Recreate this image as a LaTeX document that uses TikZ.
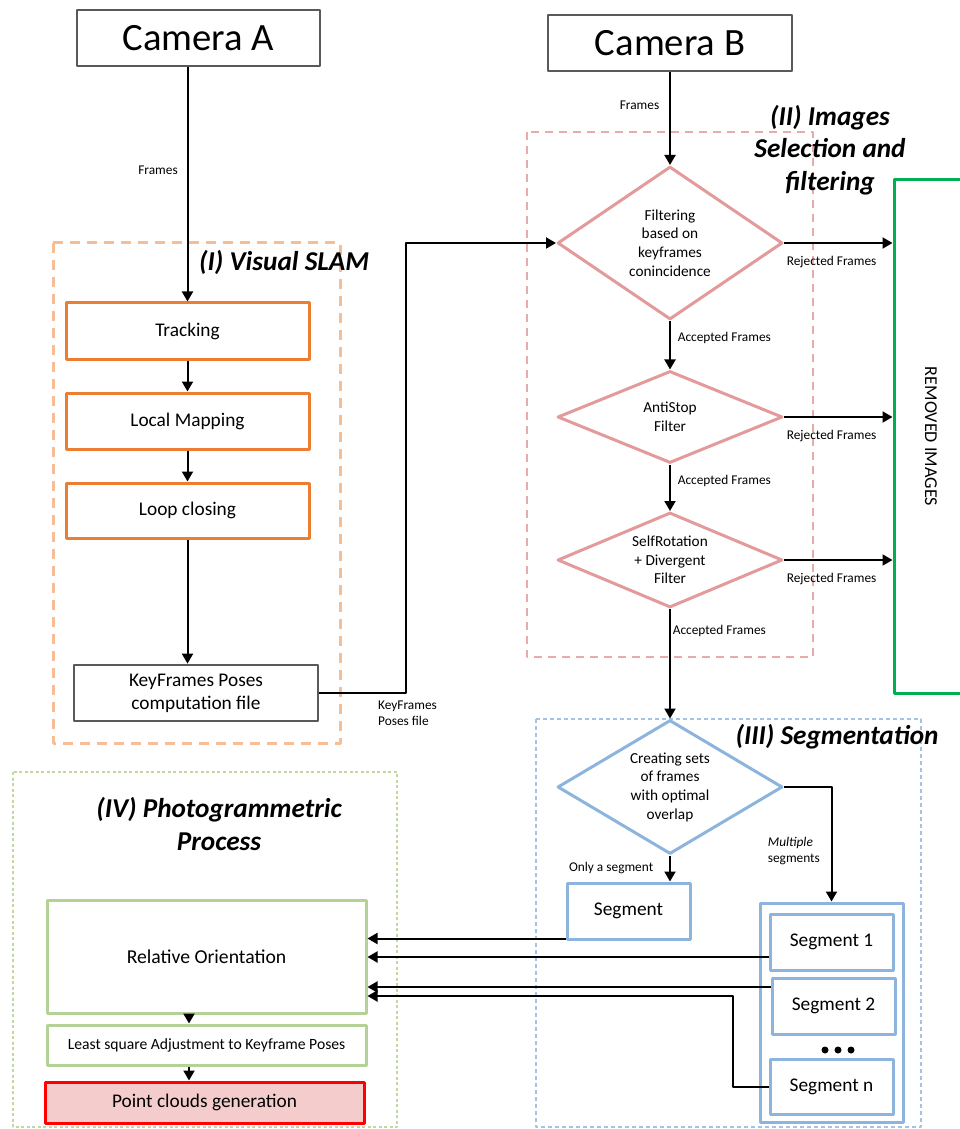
\documentclass[tikz,border=0pt]{standalone}
\usepackage{fontspec}
\setmainfont{Carlito}
\usepackage{graphicx}
\usetikzlibrary{arrows.meta,calc,shapes.geometric}
\definecolor{camgray}{HTML}{595959}
\definecolor{slamorange}{HTML}{ED7D31}
\definecolor{slamdash}{HTML}{F7BE95}
\definecolor{pinkline}{HTML}{E39A9A}
\definecolor{pinkdash}{HTML}{EBAAAA}
\definecolor{removegreen}{HTML}{00B050}
\definecolor{blueline}{HTML}{8CB4DC}
\definecolor{bluedash}{HTML}{A0C3E6}
\definecolor{greenline}{HTML}{B4D296}
\definecolor{greendash}{HTML}{C3D7A5}
\definecolor{pcfill}{HTML}{F4CCCC}
\tikzset{
  sz/.style 2 args={minimum width=#1*\px, minimum height=#2*\px, inner sep=0pt},
  cam/.style={draw=camgray, line width=0.55mm, font=\fontsize{22}{26}\selectfont},
  slam/.style={draw=slamorange, line width=0.6mm, font=\fontsize{11}{13}\selectfont},
  kfbox/.style={draw=camgray, line width=0.55mm, align=center, font=\fontsize{11}{13}\selectfont},
  filt/.style={diamond, draw=pinkline, line width=0.6mm, aspect=2, align=center, font=\fontsize{8.7}{10.6}\selectfont},
  segdia/.style={filt, draw=blueline},
  segbox/.style={draw=blueline, line width=0.6mm, font=\fontsize{11}{13}\selectfont},
  photo/.style={draw=greenline, line width=0.6mm},
  lbl/.style={font=\fontsize{7.6}{9}\selectfont, inner sep=1pt},
  ttl/.style={font=\bfseries\itshape\fontsize{15.5}{18.4}\selectfont, align=center},
  arr/.style={->, line width=0.4mm},
}
\begin{document}
\begin{tikzpicture}[x=0.2mm, y=-0.2mm, line join=round, >={Triangle[length=2mm,width=2.2mm]}]
	\def\px{0.2mm}
	\useasboundingbox (0,0) rectangle (959,1129);
	\draw[slamdash, line width=0.6mm, dash pattern=on 2mm off 1.4mm] (53,243) rectangle (340,743);
	\draw[pinkdash, line width=0.3mm, dash pattern=on 1.6mm off 1.2mm] (527,132) rectangle (813,657);
	\draw[bluedash, line width=0.3mm, dash pattern=on 0.8mm off 0.6mm] (536,719) rectangle (921,1127);
	\draw[greendash, line width=0.3mm, dash pattern=on 0.6mm off 0.5mm] (13,772) rectangle (397,1127);
	\node[ttl, anchor=west] (t1) at (193,262) {(I) Visual SLAM};
	\node[ttl] (t2) at (830,150) {(II) Images\\Selection and\\filtering};
	\node[ttl] (t3) at (837,737) {(III) Segmentation};
	\node[ttl] (t4) at (219,824) {(IV) Photogrammetric\\Process};
	% camera A and visual SLAM
	\node[cam, sz={243}{56}] (camA) at (198.5,38) {Camera A};
	\node[slam, sz={243}{56}] (trk) at (187.5,331) {Tracking};
	\node[slam, sz={243}{56}] (lmap) at (187.5,421) {Local Mapping};
	\node[slam, sz={243}{55}] (lclos) at (187.5,510.5) {Loop closing};
	\node[kfbox, sz={244}{56}] (kfp) at (196,693) {KeyFrames Poses\\computation file};
	\draw[arr] (camA.south -| trk.north) -- (trk.north) node[lbl, left, pos=0.44, xshift=-1.4mm] {Frames};
	\draw[arr] (trk) -- (lmap);
	\draw[arr] (lmap) -- (lclos);
	\draw[arr] (lclos.south) -- (lclos.south |- kfp.north);
	% camera B and filters
	\node[cam, sz={244}{56}] (camB) at (670,43) {Camera B};
	\node[filt, sz={225}{153}] (dia1) at (670,243) {Filtering\\based on\\keyframes\\conincidence};
	\node[filt, sz={225}{92}] (dia2) at (670,417) {AntiStop\\Filter};
	\node[filt, sz={225}{95}] (dia3) at (670,560) {SelfRotation\\+ Divergent\\Filter};
	\node[draw=removegreen, line width=0.6mm, sz={74}{513}, font=\fontsize{10.3}{12}\selectfont] (rem) at (931,436.5) {\rotatebox{-90}{REMOVED IMAGES}};
	\coordinate (kfturn) at (406,243);
	\draw[arr] (kfp.east) -| (kfturn) -- (dia1.west);
	\node[lbl, anchor=west, align=left] (kflbl) at (376,713) {KeyFrames\\Poses file};
	\draw[arr] (camB) -- (dia1) node[lbl, left, pos=0.36, xshift=-1.6mm] {Frames};
	\draw[arr] (dia1) -- (dia2) node[lbl, right, pos=0.35, xshift=1mm] {Accepted Frames};
	\draw[arr] (dia2) -- (dia3) node[lbl, right, pos=0.36, xshift=1mm] {Accepted Frames};
	\foreach \d in {dia1,dia2,dia3}
		\draw[arr] (\d.east) -- (\d.east -| rem.west) node[lbl, pos=0, anchor=north west, yshift=-2mm] {Rejected Frames};
	% segmentation
	\node[segdia, sz={225}{134}] (dia4) at (670,787) {Creating sets\\of frames\\with optimal\\overlap};
	\draw[arr] (dia3) -- (dia4) node[lbl, right, pos=0.2] {Accepted Frames};
	\node[segbox, sz={123}{56}] (seg) at (628.5,911) {Segment};
	\node[draw=blueline, line width=0.6mm, sz={143}{219}] (grp) at (831.5,1012.5) {};
	\node[segbox, sz={123}{56}] (seg1) at (831.5,942) {Segment 1};
	\node[segbox, sz={123}{56}] (seg2) at (833.5,1006) {Segment 2};
	\node[segbox, sz={123}{55}] (segn) at (831.5,1086.5) {Segment n};
	\foreach \x in {825,838,851} \fill (\x,1050) circle (0.7mm);
	\draw[arr] (dia4.south) -- (dia4.south |- seg.north) node[lbl, left, pos=0.5, xshift=-2.8mm] {Only a segment};
	\draw[arr] (dia4.east) -| (grp.north);
	\node[lbl, anchor=east, align=left] (mlbl) at (822,851) {\textit{Multiple}\\segments};
	% photogrammetric process
	\node[photo, sz={319}{113}, font=\fontsize{11.2}{13}\selectfont] (relo) at (206.5,956.5) {Relative Orientation};
	\node[photo, sz={319}{40}, font=\fontsize{8.9}{10}\selectfont] (lsa) at (206.5,1045) {Least square Adjustment to Keyframe Poses};
	\node[draw=red, fill=pcfill, line width=0.6mm, sz={319}{41}, font=\fontsize{11}{13}\selectfont] (pcg) at (204.5,1102.5) {Point clouds generation};
	\draw[arr] ([xshift=-3.5mm]relo.south) -- ([xshift=-3.5mm]relo.south |- lsa.north);
	\draw[arr] ([xshift=-3.5mm]lsa.south) -- ([xshift=-3.5mm]lsa.south |- pcg.north);
	\coordinate (bnd) at (733,996);
	\draw[arr] ([yshift=0.4mm]seg.south west) -- ([yshift=0.4mm]seg.south west -| relo.east);
	\draw[arr] ([yshift=-3mm]seg1.west) -- ([yshift=-3mm]seg1.west -| relo.east);
	\draw[arr] ([yshift=3.8mm]seg2.west) -- ([yshift=3.8mm]seg2.west -| relo.east);
	\draw[arr] (segn.west) -| (bnd) -- (bnd -| relo.east);
\end{tikzpicture}
\end{document}
